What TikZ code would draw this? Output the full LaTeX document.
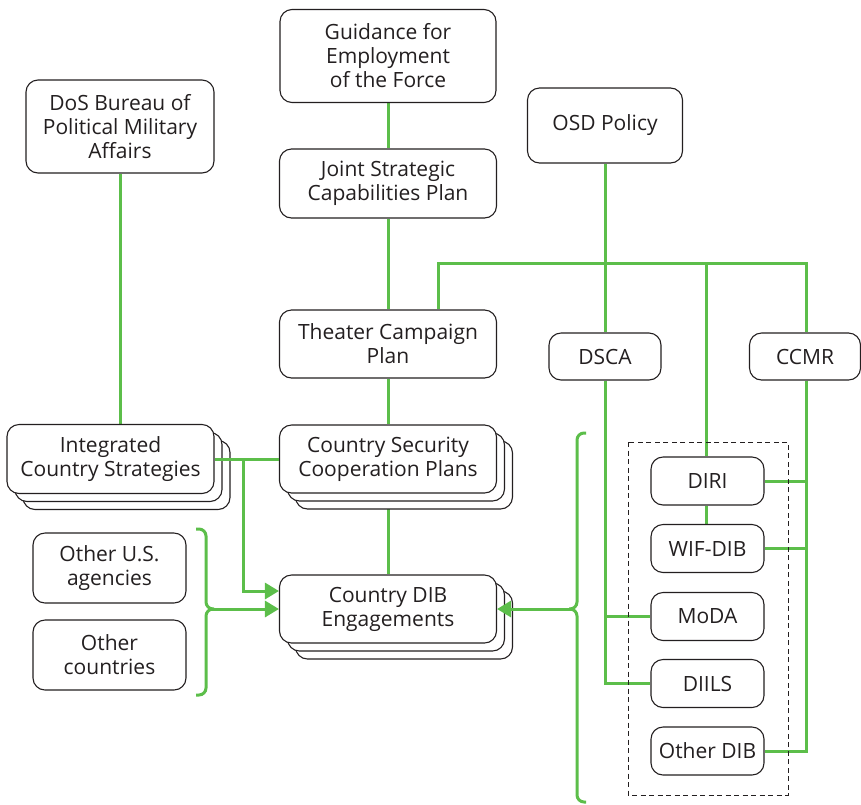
\documentclass[tikz,border=0pt]{standalone}
\usepackage{fontspec}
\setmainfont{Open Sans}
\usetikzlibrary{arrows.meta,shadows}
\definecolor{gr}{RGB}{92,190,74}
\definecolor{bd}{RGB}{35,31,32}
\pgfdeclarelayer{bg}
\pgfsetlayers{bg,main}
\begin{document}
\begin{tikzpicture}[x=1pt,y=-1pt,
  box/.style={draw=bd,line width=1.1pt,rounded corners=12pt,fill=white,align=center,inner sep=0pt,text=bd,font=\fontsize{21}{24}\selectfont},
  stack/.style={box,double copy shadow={shadow xshift=8pt,shadow yshift=-8pt,fill=white,draw=bd,line width=1.1pt}},
  gl/.style={draw=gr,line width=3pt},
  arr/.style={gl,-{Triangle[length=14pt,width=16pt]}}]
\useasboundingbox (0,0) rectangle (861,804);

\node[box,minimum width=216pt,minimum height=93pt] (guid) at (388,56) {Guidance for\\Employment\\of the Force};
\node[box,minimum width=188pt,minimum height=93pt] (dos) at (120,126.5) {DoS Bureau of\\Political Military\\Affairs};
\node[box,minimum width=155pt,minimum height=75pt] (osd) at (605,125.5) {OSD Policy};
\node[box,minimum width=217pt,minimum height=69pt] (jscp) at (388,183.5) {Joint Strategic\\Capabilities Plan};
\node[box,minimum width=217pt,minimum height=68pt] (tcp) at (388,344) {Theater Campaign\\Plan};
\node[box,minimum width=112pt,minimum height=47pt] (dsca) at (605,356.5) {DSCA};
\node[box,minimum width=111pt,minimum height=47pt] (ccmr) at (805,356.5) {CCMR};

\node[stack,minimum width=207pt,minimum height=69pt] (ics) at (110.5,459) {Integrated\\Country Strategies};
\node[stack,minimum width=217pt,minimum height=68pt] (cscp) at (388,459) {Country Security\\Cooperation Plans};
\node[stack,minimum width=217pt,minimum height=68pt] (dib) at (388,609) {Country DIB\\Engagements};

\node[box,minimum width=153pt,minimum height=70pt] (ous) at (109.5,568) {Other U.S.\\agencies};
\node[box,minimum width=153pt,minimum height=70pt] (oc) at (109.5,655) {Other\\countries};

\draw[bd,line width=0.9pt,dash pattern=on 5pt off 3.5pt] (628,442) rectangle (788,795);

\node[box,minimum width=113pt,minimum height=48pt] (diri) at (707.5,481) {DIRI};
\node[box,minimum width=113pt,minimum height=48pt] (wif) at (707.5,548.5) {WIF-DIB};
\node[box,minimum width=113pt,minimum height=48pt] (moda) at (707.5,616.5) {MoDA};
\node[box,minimum width=113pt,minimum height=48pt] (diils) at (707.5,683.5) {DIILS};
\node[box,minimum width=113pt,minimum height=48pt] (odib) at (707.5,751) {Other DIB};

\coordinate (hl) at (438,263);
\coordinate (hm) at (706,263);
\coordinate (hr) at (806,263);
\coordinate (br) at (243,459);

\begin{pgfonlayer}{bg}
\draw[gl] (guid) -- (jscp);
\draw[gl] (jscp) -- (tcp);
\draw[gl] (tcp) -- (cscp);
\draw[gl] (cscp) -- (dib);
\draw[gl] (dos.south) -- (dos.south |- ics.north);
\draw[gl] (osd) -- (dsca);
\draw[gl] (tcp.north -| hl) -- (hl) -- (hr) -- (ccmr.north -| hr);
\draw[gl] (hm) -- (hm |- diri.north);
\draw[gl] (diri.south -| hm) -- (wif.north -| hm);
\draw[gl] (dsca.south) |- (moda.west);
\draw[gl] (dsca.south) |- (diils.west);
\draw[gl] (ccmr.south -| hr) |- (odib.east);
\draw[gl] (ccmr.south -| hr) |- (wif.east);
\draw[gl] (ccmr.south -| hr) |- (diri.east);
\end{pgfonlayer}

\draw[gl] (ics.east) -- (cscp.west);
\draw[arr] (br) |- (dib.west |- 0,591);
\draw[gl,rounded corners=7pt] (196,529) -- (206,529) -- (206,609) -- (214,609);
\draw[gl,rounded corners=7pt] (196,695) -- (206,695) -- (206,609) -- (214,609);
\draw[arr] (212,609) -- (dib.west);
\draw[gl,rounded corners=7pt] (586,433) -- (577,433) -- (577,609) -- (569,609);
\draw[gl,rounded corners=7pt] (586,802) -- (577,802) -- (577,609) -- (569,609);
\draw[arr] (571,609) -- (dib.east);
\end{tikzpicture}
\end{document}
